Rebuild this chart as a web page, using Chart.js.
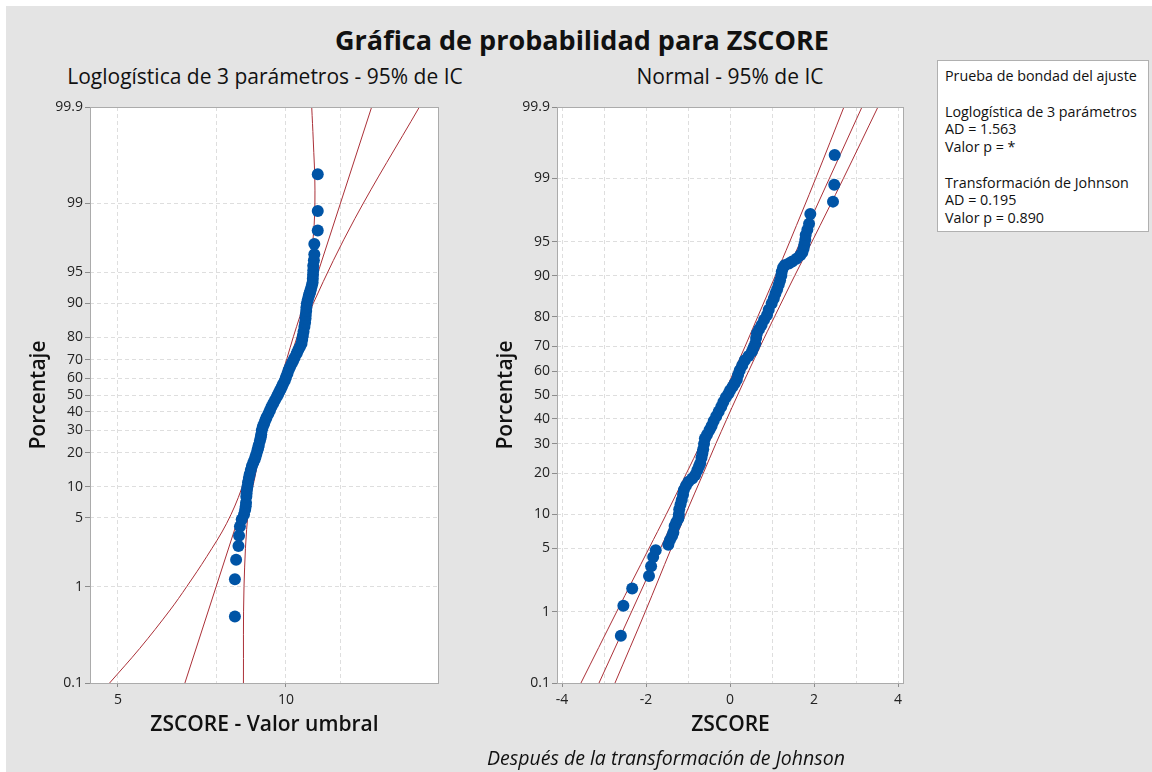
<!DOCTYPE html>
<html>
<head>
<meta charset="utf-8">
<title>Gráfica de probabilidad para ZSCORE</title>
<script src="https://cdn.jsdelivr.net/npm/chart.js@4.4.1/dist/chart.umd.min.js"></script>
<style>
  html, body { margin: 0; padding: 0; background: #fff; width: 1152px; height: 772px; overflow: hidden; }
  body { font-family: 'Open Sans', 'Noto Sans', sans-serif; color: #111; }
  #fondo { position: absolute; left: 6px; top: 6px; right: 0; bottom: 0; background: #e4e4e4; }
  .txt { position: absolute; white-space: nowrap; line-height: 1; }
  .centro { transform: translateX(-50%); }
  canvas { position: absolute; }
  #leyenda {
    position: absolute; left: 937px; top: 60px; width: 203px; height: 164px;
    background: #fff; border: 1px solid #b0b0b0; padding: 6px 0 0 7px;
    font-size: 14.3px; line-height: 17.75px; color: #111;
  }
  #leyenda div { height: 17.75px; white-space: nowrap; }
</style>
</head>
<body>
<div id="fondo"></div>

<div class="txt centro" style="left:582px; top:26px; font-size:27px; font-weight:700;">Gráfica de probabilidad para ZSCORE</div>
<div class="txt centro" style="left:265px; top:66px; font-size:21px;">Loglogística de 3 parámetros - 95% de IC</div>
<div class="txt centro" style="left:730px; top:66px; font-size:21px;">Normal - 95% de IC</div>

<canvas id="chartUmbral" width="464" height="650" style="left:6px; top:95px;"></canvas>
<canvas id="chartJohnson" width="450" height="650" style="left:470px; top:95px;"></canvas>

<div id="leyenda">
  <div>Prueba de bondad del ajuste</div>
  <div></div>
  <div>Loglogística de 3 parámetros</div>
  <div>AD = 1.563</div>
  <div>Valor p = *</div>
  <div></div>
  <div>Transformación de Johnson</div>
  <div>AD = 0.195</div>
  <div>Valor p = 0.890</div>
</div>

<div class="txt centro" style="left:666px; top:748px; font-size:19.5px; font-style:italic;">Después de la transformación de Johnson</div>

<script>
// ---- datos ----
const pctTicks = [0.1, 1, 5, 10, 20, 30, 40, 50, 60, 70, 80, 90, 95, 99, 99.9];
const umbralTicks = [5, 7.5, 10, 12.5];
const umbralLabels = [5, 10];
const johnsonTicks = [-4, -3, -2, -1, 0, 1, 2, 3, 4];
const johnsonLabels = [-4, -2, 0, 2, 4];

// posiciones de graficación (porcentaje), comunes a los dos paneles
const plotPct = [
  0.49, 1.19, 1.89, 2.6, 3.3, 4.1, 4.8, 5.4, 6.0, 6.5,
  7.0, 8.0, 8.6, 9.3, 10, 11, 12, 13, 14.2, 15.4,
  16.5, 17.6, 18.5, 19.5, 21, 22.2, 23.2, 25, 26.5, 28,
  30, 32, 33.5, 35.4, 37, 39, 41, 43, 45, 47,
  49, 50.5, 52, 53.5, 55, 56.5, 58.5, 60.5, 62.5, 64.5,
  66.2, 68, 69.5, 71, 73, 74.6, 76, 77.4, 79, 80.5,
  82, 83.7, 85, 86.2, 87.2, 88.2, 89.1, 90, 90.7, 91.4,
  91.8, 92.1, 92.4, 92.8, 93.3, 93.7, 94.2, 94.7, 95.2, 95.7,
  96.2, 96.7, 97.4, 98.1, 98.8, 99.5
];

// ZSCORE - valor umbral (panel izquierdo)
const zscoreUmbral = [
  8.10, 8.10, 8.14, 8.22, 8.24, 8.27, 8.33, 8.41, 8.45, 8.47,
  8.48, 8.49, 8.50, 8.51, 8.53, 8.55, 8.58, 8.61, 8.65, 8.69,
  8.74, 8.79, 8.82, 8.85, 8.89, 8.92, 8.94, 8.98, 9.01, 9.03,
  9.05, 9.09, 9.14, 9.19, 9.23, 9.30, 9.36, 9.42, 9.49, 9.56,
  9.63, 9.68, 9.73, 9.78, 9.83, 9.88, 9.95, 10.00, 10.06, 10.11,
  10.17, 10.24, 10.30, 10.36, 10.45, 10.52, 10.59, 10.66, 10.69, 10.72,
  10.75, 10.79, 10.82, 10.84, 10.85, 10.87, 10.88, 10.90, 10.94, 10.98,
  11.01, 11.04, 11.06, 11.09, 11.13, 11.16, 11.17, 11.18, 11.19, 11.19,
  11.22, 11.24, 11.24, 11.40, 11.40, 11.40
];

// ZSCORE tras la transformación de Johnson (panel derecho)
const zscoreJohnson = [
  -2.60, -2.54, -2.33, -1.93, -1.88, -1.83, -1.77, -1.47, -1.43, -1.38,
  -1.35, -1.32, -1.28, -1.23, -1.22, -1.21, -1.18, -1.15, -1.12, -1.10,
  -1.05, -0.99, -0.90, -0.83, -0.78, -0.74, -0.71, -0.68, -0.66, -0.64,
  -0.62, -0.60, -0.55, -0.49, -0.44, -0.39, -0.33, -0.27, -0.21, -0.16,
  -0.10, -0.04, 0.00, 0.06, 0.11, 0.16, 0.19, 0.23, 0.29, 0.35,
  0.44, 0.52, 0.56, 0.60, 0.62, 0.64, 0.69, 0.75, 0.81, 0.88,
  0.92, 0.99, 1.04, 1.08, 1.12, 1.16, 1.19, 1.22, 1.23, 1.26,
  1.30, 1.40, 1.48, 1.58, 1.67, 1.72, 1.75, 1.77, 1.79, 1.80,
  1.84, 1.88, 1.91, 2.45, 2.48, 2.49
];

// rectas ajustadas
const fitPct = [0.1, 99.9];
const fitUmbral = [6.59, 14.24];
const fitJohnson = [-3.12, 3.14];

// bandas de confianza 95%, panel loglogístico
const ciUmbralAPct = [0.1, 0.229, 0.573, 1.0, 2.03, 4.41, 9.65, 35.4, 58.9, 80.2, 91.35, 97.8, 99.27, 99.78, 99.9];
const ciUmbralAX = [4.83, 5.47, 6.20, 6.64, 7.21, 7.83, 8.33, 9.08, 9.75, 10.31, 10.82, 11.19, 11.27, 11.19, 11.12];
const ciUmbralBPct = [0.1, 1.0, 5.96, 12.36, 30.2, 47.0, 68.3, 81.6, 90.0, 98.57, 99.9];
const ciUmbralBX = [8.39, 8.41, 8.56, 8.80, 9.17, 9.70, 10.21, 10.73, 11.19, 13.29, 17.34];

// bandas de confianza 95%, panel normal
const ciJohnsonPct = [0.1, 1, 5, 10, 20, 30, 50, 70, 80, 90, 95, 99, 99.9];
const ciJohnsonLo = [-3.55, -2.70, -1.93, -1.52, -1.04, -0.70, -0.16, 0.36, 0.66, 1.08, 1.42, 2.04, 2.71];
const ciJohnsonHi = [-2.74, -2.02, -1.40, -1.06, -0.64, -0.34, 0.18, 0.72, 1.06, 1.54, 1.95, 2.70, 3.52];

// ---- escalas de probabilidad ----
function probit(p) {
  // inversa de la normal (Acklam)
  const a = [-39.69683028665376, 220.9460984245205, -275.9285104469687, 138.3577518672690, -30.66479806614716, 2.506628277459239];
  const b = [-54.47609879822406, 161.5858368580409, -155.6989798598866, 66.80131188771972, -13.28068155288572];
  const c = [-0.007784894002430293, -0.3223964580411365, -2.400758277161838, -2.549671348850033, 4.374664141464968, 2.938163982698783];
  const d = [0.007784695709041462, 0.3224671290700398, 2.445134137142996, 3.754408661907416];
  const tail = q => (((((c[0] * q + c[1]) * q + c[2]) * q + c[3]) * q + c[4]) * q + c[5]) /
    ((((d[0] * q + d[1]) * q + d[2]) * q + d[3]) * q + 1);
  if (p < 0.02425) return tail(Math.sqrt(-2 * Math.log(p)));
  if (p > 1 - 0.02425) return -tail(Math.sqrt(-2 * Math.log(1 - p)));
  const q = p - 0.5, r = q * q;
  return (((((a[0] * r + a[1]) * r + a[2]) * r + a[3]) * r + a[4]) * r + a[5]) * q /
    (((((b[0] * r + b[1]) * r + b[2]) * r + b[3]) * r + b[4]) * r + 1);
}

class LogisticScale extends Chart.LinearScale {
  static id = 'logisticprob';
  static defaults = {};
  tf(v) { const p = v / 100; return Math.log(p / (1 - p)); }
  getPixelForValue(v) {
    const a = this.tf(this.min), b = this.tf(this.max);
    return this.getPixelForDecimal((this.tf(v) - a) / (b - a));
  }
  getValueForPixel(px) {
    const a = this.tf(this.min), b = this.tf(this.max);
    const t = a + this.getDecimalForPixel(px) * (b - a);
    let lo = 0.0001, hi = 99.9999;
    for (let i = 0; i < 50; i++) {
      const m = (lo + hi) / 2;
      if (this.tf(m) < t) lo = m; else hi = m;
    }
    return lo;
  }
}

class NormalScale extends LogisticScale {
  static id = 'normalprob';
  static defaults = {};
  tf(v) { return probit(v / 100); }
}

Chart.registry.addScales(LogisticScale, NormalScale);

// ---- estilo ----
const FONT = "'Open Sans', 'Noto Sans', sans-serif";
const tickFont = { family: FONT, size: 14 };
const titleFont = { family: FONT, size: 21, weight: '600' };
const gridColor = '#dedede';
const axisColor = '#8c8c8c';
const blue = '#0054a6';
const red = '#ab3038';

const plotFrame = {
  id: 'plotFrame',
  beforeDraw(chart) {
    const { ctx, chartArea: a } = chart;
    ctx.save();
    ctx.fillStyle = '#fff';
    ctx.fillRect(a.left, a.top, a.right - a.left, a.bottom - a.top);
    ctx.restore();
  },
  afterDraw(chart) {
    const { ctx, chartArea: a } = chart;
    ctx.save();
    ctx.strokeStyle = '#ababab';
    ctx.lineWidth = 1;
    ctx.strokeRect(a.left + 0.5, a.top + 0.5, a.right - a.left - 1, a.bottom - a.top);
    ctx.restore();
  }
};

const pairs = (xs, ps) => xs.map((x, i) => ({ x, y: ps[i] }));

function datasets(xs, fitX, ciA, ciB) {
  return [
    { data: pairs(xs, plotPct), showLine: false, pointRadius: 6, pointBackgroundColor: blue,
      pointBorderWidth: 0, borderColor: 'transparent' },
    { data: pairs(fitX, fitPct), showLine: true, pointRadius: 0, borderColor: red, borderWidth: 1 },
    { data: ciA, showLine: true, pointRadius: 0, borderColor: red, borderWidth: 1, tension: 0.35 },
    { data: ciB, showLine: true, pointRadius: 0, borderColor: red, borderWidth: 1, tension: 0.35 }
  ];
}

function yScale(type, width, titlePad) {
  return {
    type, min: 0.1, max: 99.9, bounds: 'data',
    afterBuildTicks: s => { s.ticks = pctTicks.map(v => ({ value: v })); },
    afterFit: s => { s.width = width; },
    ticks: { autoSkip: false, padding: 2, font: tickFont, color: '#222', callback: v => String(v) },
    grid: { color: gridColor, tickLength: 5, tickColor: axisColor },
    border: { display: false, dash: [4, 3] },
    title: { display: true, text: 'Porcentaje', font: titleFont, color: '#111', padding: { top: titlePad, bottom: 0 } }
  };
}

function baseOptions(padRight, x, y) {
  return {
    responsive: false,
    animation: false,
    events: [],
    layout: { padding: { top: 12, right: padRight, left: 0, bottom: 0 } },
    plugins: { legend: { display: false }, tooltip: { enabled: false } },
    scales: { x, y }
  };
}

new Chart(document.getElementById('chartUmbral'), {
  type: 'scatter',
  data: {
    datasets: datasets(zscoreUmbral, fitUmbral,
      pairs(ciUmbralAX, ciUmbralAPct), pairs(ciUmbralBX, ciUmbralBPct))
  },
  options: baseOptions(31, {
    type: 'logarithmic', min: 4.455, max: 18.8, bounds: 'data',
    afterBuildTicks: s => { s.ticks = umbralTicks.map(v => ({ value: v })); },
    afterFit: s => { s.height = 62; },
    ticks: { autoSkip: false, maxRotation: 0, padding: 5, font: tickFont, color: '#222',
      callback: v => umbralLabels.includes(v) ? String(v) : '' },
    grid: { color: gridColor, tickLength: 4,
      tickColor: ctx => umbralLabels.includes(ctx.tick && ctx.tick.value) ? axisColor : 'rgba(0,0,0,0)' },
    border: { display: false, dash: [4, 3] },
    title: { display: true, text: 'ZSCORE - Valor umbral', font: titleFont, color: '#111', padding: { top: 0, bottom: 7 } }
  }, yScale('logisticprob', 84, 20)),
  plugins: [plotFrame]
});

new Chart(document.getElementById('chartJohnson'), {
  type: 'scatter',
  data: {
    datasets: datasets(zscoreJohnson, fitJohnson,
      pairs(ciJohnsonLo, ciJohnsonPct), pairs(ciJohnsonHi, ciJohnsonPct))
  },
  options: baseOptions(16, {
    type: 'linear', min: -4.12, max: 4.14, bounds: 'data',
    afterBuildTicks: s => { s.ticks = johnsonTicks.map(v => ({ value: v })); },
    afterFit: s => { s.height = 62; },
    ticks: { autoSkip: false, maxRotation: 0, padding: 5, font: tickFont, color: '#222',
      callback: v => johnsonLabels.includes(v) ? String(v) : '' },
    grid: { color: gridColor, tickLength: 4,
      tickColor: ctx => johnsonLabels.includes(ctx.tick && ctx.tick.value) ? axisColor : 'rgba(0,0,0,0)' },
    border: { display: false, dash: [4, 3] },
    title: { display: true, text: 'ZSCORE', font: titleFont, color: '#111', padding: { top: 0, bottom: 7 } }
  }, yScale('normalprob', 87, 23)),
  plugins: [plotFrame]
});
</script>
</body>
</html>
